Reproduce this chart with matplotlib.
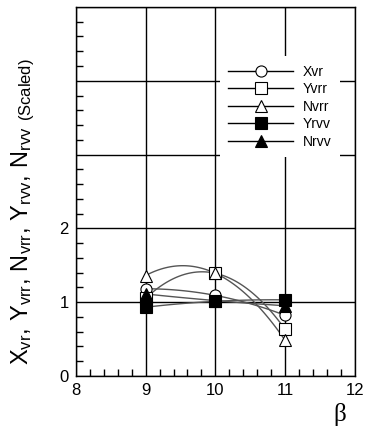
"""
Scaled hydrodynamic coefficients versus beta, Tecplot-like line chart.
"""

import matplotlib

matplotlib.use("Agg")
import matplotlib.pyplot as plt
import numpy as np
from matplotlib.lines import Line2D
from matplotlib.ticker import MultipleLocator

plt.rcParams["font.family"] = ["Liberation Sans", "DejaVu Sans"]
plt.rcParams["mathtext.fontset"] = "custom"
plt.rcParams["mathtext.rm"] = "Liberation Sans"
plt.rcParams["mathtext.it"] = "Liberation Sans"

beta = [9, 10, 11]
series_names = ["Xvr", "Yvrr", "Nvrr", "Yrvv", "Nrvv"]
xvr = [1.18, 1.09, 0.82]
yvrr = [1.05, 1.39, 0.63]
nvrr = [1.36, 1.39, 0.48]
yrvv = [0.93, 1.01, 1.03]
nrvv = [1.11, 1.02, 0.95]

markers = ["o", "s", "^", "s", "^"]
filled = [False, False, False, True, True]
values = [xvr, yvrr, nvrr, yrvv, nrvv]

fig = plt.figure(figsize=(3.72, 4.36), dpi=100)
ax = fig.add_axes([0.204, 0.138, 0.750, 0.846])

xs = np.linspace(beta[0], beta[-1], 100)
for vals, m, f in zip(values, markers, filled):
    # smooth curve through the three points (quadratic)
    coef = np.polyfit(beta, vals, 2)
    ax.plot(xs, np.polyval(coef, xs), color="#555555", lw=1.0, zorder=2)
    ax.plot(beta, vals, linestyle="none", marker=m, ms=8,
            mfc="black" if f else "white", mec="black", mew=0.8, zorder=3)

ax.set_xlim(8, 12)
ax.set_ylim(0, 5)
ax.xaxis.set_major_locator(MultipleLocator(1))
ax.xaxis.set_minor_locator(MultipleLocator(0.2))
ax.set_yticks([0, 1, 2, 3, 4, 5])
ax.set_yticklabels(["0", "1", "2", "", "", ""])
ax.yaxis.set_minor_locator(MultipleLocator(0.2))
ax.tick_params(which="both", direction="in", top=False, right=False,
               labelsize=12, width=1)
ax.tick_params(which="major", length=0, pad=5)
ax.tick_params(which="minor", length=5)
ax.grid(True, which="major", color="black", lw=1.0)
for s in ax.spines.values():
    s.set_linewidth(1.0)

ax.set_ylabel(r"$\mathrm{X_{vr},\,Y_{vrr},\,N_{vrr},\,Y_{rvv},\,N_{rvv}}$ "
              r"$_{\mathrm{(Scaled)}}$", fontsize=17)
ax.yaxis.set_label_coords(-0.14, 0.445)
ax.set_xlabel("β", fontsize=18, family="Liberation Serif")
ax.xaxis.set_label_coords(0.946, -0.073)

handles = [Line2D([0], [0], color="black", lw=1.0, marker=m, ms=8,
                  mfc="black" if f else "white", mec="black", mew=0.8)
           for m, f in zip(markers, filled)]
leg = ax.legend(handles, series_names, loc="upper left",
                bbox_to_anchor=(0.491, 0.885), frameon=True, fontsize=10,
                handlelength=4.7, handletextpad=0.7, labelspacing=0.25,
                borderpad=0.6, fancybox=False)
leg.get_frame().set_edgecolor("none")
leg.get_frame().set_facecolor("white")
leg.get_frame().set_alpha(1)

fig.savefig("out.png", dpi=100)
